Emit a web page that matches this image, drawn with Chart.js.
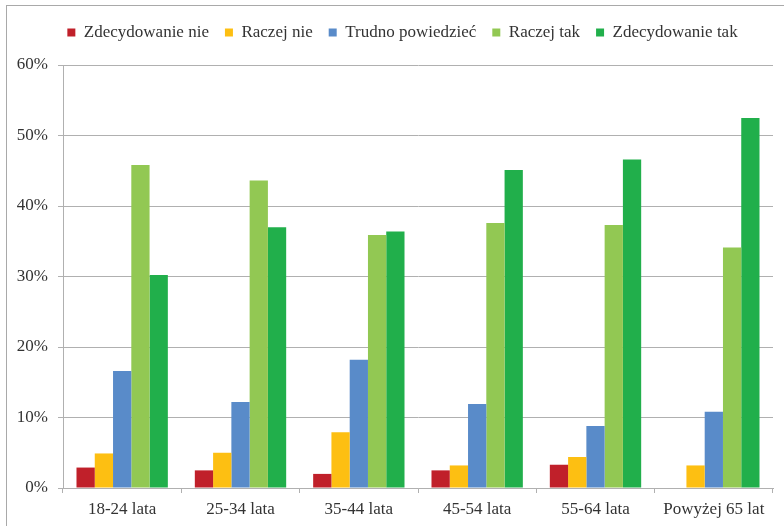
<!DOCTYPE html>
<html>
<head>
<meta charset="utf-8">
<script src="https://cdn.jsdelivr.net/npm/chart.js@4.4.0/dist/chart.umd.min.js"></script>
<style>
  html, body { margin: 0; padding: 0; background: #fff; overflow: hidden; }
  #wrap { position: relative; width: 784px; height: 526px; }
  #frame { position: absolute; left: 6px; top: 5px; width: 900px; height: 700px;
           border: 1px solid #a9a9a9; pointer-events: none; }
</style>
</head>
<body>
<div id="wrap">
  <canvas id="chart" width="784" height="526"></canvas>
  <div id="frame"></div>
</div>
<script>
const categories = ['18-24 lata', '25-34 lata', '35-44 lata', '45-54 lata', '55-64 lata', 'Powyżej 65 lat'];
const seriesNames = ['Zdecydowanie nie', 'Raczej nie', 'Trudno powiedzieć', 'Raczej tak', 'Zdecydowanie tak'];

// values in %
const zdecydowanieNie = [2.9, 2.5, 2.0, 2.5, 3.3, 0];
const raczejNie       = [4.9, 5.0, 7.9, 3.2, 4.4, 3.2];
const trudno          = [16.6, 12.2, 18.2, 11.9, 8.8, 10.8];
const raczejTak       = [45.8, 43.6, 35.9, 37.6, 37.3, 34.1];
const zdecydowanieTak = [30.2, 37.0, 36.4, 45.1, 46.6, 52.5];

const yTicks = [0, 10, 20, 30, 40, 50, 60];

const colors = ['#c0202a', '#fdbf12', '#598bc9', '#92c853', '#21af4b'];
const values = [zdecydowanieNie, raczejNie, trudno, raczejTak, zdecydowanieTak];

const FONT = "'Liberation Serif', 'Times New Roman', serif";
const GRID = '#b0b0b0';
Chart.defaults.font.family = FONT;
Chart.defaults.font.size = 17;

// extra room under the legend, and nudge it right like the original
const legendSpace = {
    id: 'legendSpace',
    beforeInit(chart) {
        const fit = chart.legend.fit;
        chart.legend.fit = function () {
            fit.call(this);
            this.height += 14;
        };
    },
    afterLayout(chart) {
        chart.legend.left += 16;
        chart.legend.right += 16;
    }
};

const ctx = document.getElementById('chart').getContext('2d');
new Chart(ctx, {
    type: 'bar',
    data: {
        labels: categories,
        datasets: seriesNames.map((name, i) => ({
            label: name,
            data: values[i],
            backgroundColor: colors[i],
            borderWidth: 0,
            categoryPercentage: 0.772,
            barPercentage: 1.0
        }))
    },
    plugins: [legendSpace],
    options: {
        responsive: false,
        animation: false,
        layout: { padding: { top: 8, right: 11, left: 0, bottom: 0 } },
        plugins: {
            tooltip: { enabled: false },
            legend: {
                position: 'top',
                labels: {
                    font: { family: FONT, size: 17 },
                    color: '#333',
                    boxWidth: 8,
                    boxHeight: 8,
                    padding: 16
                }
            }
        },
        scales: {
            x: {
                grid: { display: true, drawOnChartArea: false, color: GRID, tickLength: 5, offset: true },
                border: { color: GRID },
                ticks: { font: { family: FONT, size: 17 }, color: '#333', padding: 6, maxRotation: 0 },
                afterFit: s => { s.height = 38; }
            },
            y: {
                min: 0,
                max: 60,
                afterBuildTicks: s => { s.ticks = yTicks.map(v => ({ value: v })); },
                grid: { color: GRID, tickLength: 5 },
                border: { color: GRID },
                ticks: {
                    font: { family: FONT, size: 17 },
                    color: '#333',
                    padding: 10,
                    callback: v => v + '%'
                },
                afterFit: s => { s.width = 63; }
            }
        }
    }
});
</script>
</body>
</html>
